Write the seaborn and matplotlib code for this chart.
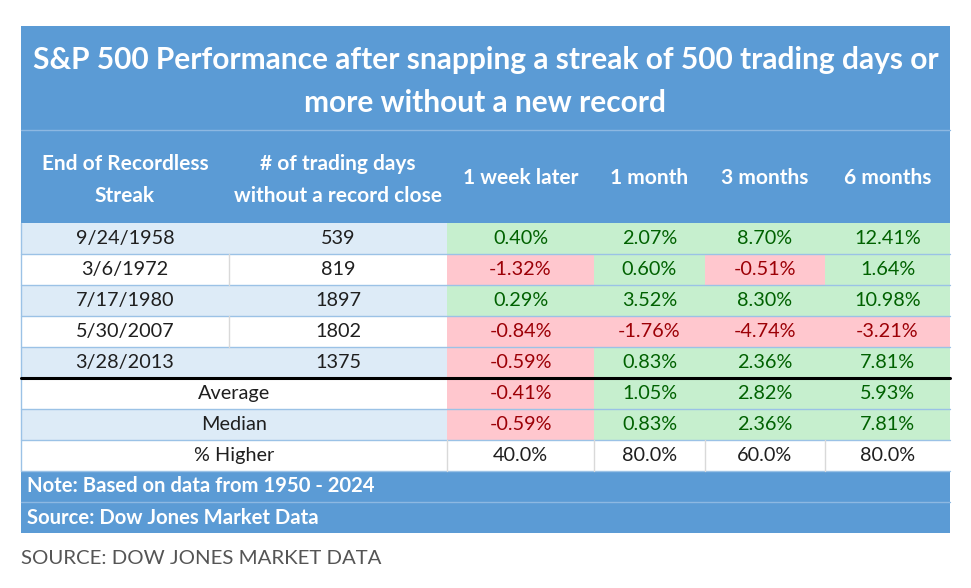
import numpy as np
import pandas as pd
import matplotlib
matplotlib.use("Agg")
import matplotlib.pyplot as plt
import seaborn as sns
from matplotlib.colors import ListedColormap
from matplotlib.patches import Rectangle

sns.set_theme(style="white")
plt.rcParams['font.family'] = ['Lato', 'DejaVu Sans']

# table values
dates = ['9/24/1958', '3/6/1972', '7/17/1980', '5/30/2007', '3/28/2013']
days = [539, 819, 1897, 1802, 1375]
periods = ['1 week later', '1 month', '3 months', '6 months']
week_later = [0.40, -1.32, 0.29, -0.84, -0.59]
one_month = [2.07, 0.60, 3.52, -1.76, 0.83]
three_months = [8.70, -0.51, 8.30, -4.74, 2.36]
six_months = [12.41, 1.64, 10.98, -3.21, 7.81]
average = [-0.41, 1.05, 2.82, 5.93]
median = [-0.59, 0.83, 2.36, 7.81]
pct_higher = [40.0, 80.0, 60.0, 80.0]

title = "S&P 500 Performance after snapping a streak of 500 trading days or\nmore without a new record"

# colours
BLUE = '#5B9BD5'
BAND = '#DDEBF7'
GREEN_BG, GREEN_TX = '#C6EFCE', '#006100'
RED_BG, RED_TX = '#FFC7CE', '#9C0006'
SEP = '#9BC2E6'
TXT = '#1F1F1F'
FS = 14.3

W, H = 971, 588
fig = plt.figure(figsize=(W / 100, H / 100), dpi=100)
fig.patch.set_facecolor('white')

ax = fig.add_axes([0, 0, 1, 1])
ax.set_xlim(0, W)
ax.set_ylim(H, 0)
ax.axis('off')

L, R = 21, 950
col_edges = [21, 229, 447, 594, 705, 825, 950]
row_top = 223
rh = 31
row_edges = [row_top + i * rh for i in range(11)]

# title band + header band
ax.add_patch(Rectangle((L, 26), R - L, row_top - 26, color=BLUE, lw=0))
ax.plot([L, R], [129.5, 129.5], color='#8DB8E2', lw=1)
ax.text((L + R) / 2, 81.5, title, ha='center', va='center', color='white',
        fontsize=21.5, fontweight='bold', linespacing=1.65)

hdr_y = 179.5
ax.text((col_edges[0] + col_edges[1]) / 2, hdr_y, 'End of Recordless\nStreak', ha='center',
        va='center', color='white', fontsize=15, fontweight='bold', linespacing=1.75)
ax.text((col_edges[1] + col_edges[2]) / 2, hdr_y, '# of trading days\nwithout a record close',
        ha='center', va='center', color='white', fontsize=15, fontweight='bold', linespacing=1.75)
for j, p in enumerate(periods):
    ax.text((col_edges[j + 2] + col_edges[j + 3]) / 2, 178, p, ha='center', va='center',
            color='white', fontsize=15, fontweight='bold')

# left columns: shaded bands
for i in range(8):
    y0 = row_edges[i]
    if i in (0, 2, 4, 6):
        ax.add_patch(Rectangle((L, y0), col_edges[2] - L, rh, color=BAND, lw=0))
for i, (d, n) in enumerate(zip(dates, days)):
    yc = row_edges[i] + rh / 2
    ax.text((col_edges[0] + col_edges[1]) / 2, yc, d, ha='center', va='center', color=TXT, fontsize=FS)
    ax.text((col_edges[1] + col_edges[2]) / 2, yc, str(n), ha='center', va='center', color=TXT, fontsize=FS)
for i, lab in zip([5, 6, 7], ['Average', 'Median', '% Higher']):
    ax.text((L + col_edges[2]) / 2, row_edges[i] + rh / 2, lab, ha='center', va='center',
            color=TXT, fontsize=FS)

# % Higher row
for j, v in enumerate(pct_higher):
    ax.text((col_edges[j + 2] + col_edges[j + 3]) / 2, row_edges[7] + rh / 2, f'{v:.1f}%',
            ha='center', va='center', color=TXT, fontsize=FS)

# note / source bands
ax.add_patch(Rectangle((L, row_edges[8]), R - L, row_edges[10] - row_edges[8], color=BLUE, lw=0))
ax.plot([L, R], [row_edges[9], row_edges[9]], color='#8DB8E2', lw=1)
ax.text(27, row_edges[8] + rh / 2, 'Note: Based on data from 1950 - 2024', ha='left', va='center',
        color='white', fontsize=14.6, fontweight='bold')
ax.text(27, row_edges[9] + rh / 2, 'Source: Dow Jones Market Data', ha='left', va='center',
        color='white', fontsize=14.6, fontweight='bold')

ax.text(L, 559, 'SOURCE: DOW JONES MARKET DATA', ha='left', va='center', color='#555555',
        fontsize=14.7)

# value cells, one heatmap per period column
cols = [week_later, one_month, three_months, six_months]
cmap = ListedColormap([RED_BG, GREEN_BG])
for j, vals in enumerate(cols):
    series = list(vals) + [average[j], median[j]]
    df = pd.DataFrame({periods[j]: series})
    labels = np.array([[f'{v:.2f}%'] for v in series])
    x0, x1 = col_edges[j + 2], col_edges[j + 3]
    y0, y1 = row_edges[0], row_edges[7]
    hax = fig.add_axes([x0 / W, 1 - y1 / H, (x1 - x0) / W, (y1 - y0) / H])
    sns.heatmap(np.sign(df), ax=hax, cmap=cmap, vmin=-1, vmax=1, cbar=False,
                annot=labels, fmt='', xticklabels=False, yticklabels=False,
                annot_kws={'fontsize': FS})
    for t, v in zip(hax.texts, series):
        t.set_color(GREEN_TX if v >= 0 else RED_TX)
    hax.axis('off')

# overlay for grid lines
ov = fig.add_axes([0, 0, 1, 1])
ov.set_xlim(0, W)
ov.set_ylim(H, 0)
ov.axis('off')
ov.patch.set_alpha(0)
for i in range(1, 9):
    if i == 5:
        continue
    ov.plot([L, R], [row_edges[i], row_edges[i]], color=SEP, lw=1)
# vertical separators in white rows
for i in (1, 3):
    ov.plot([col_edges[1], col_edges[1]], [row_edges[i], row_edges[i + 1]], color='#D9D9D9', lw=1)
for x in col_edges[2:6]:
    ov.plot([x, x], [row_edges[7], row_edges[8]], color='#D9D9D9', lw=1)
ov.plot([L, L], [row_edges[0], row_edges[8]], color=SEP, lw=1)
ov.plot([L, R], [row_edges[5], row_edges[5]], color='black', lw=2.2)

fig.savefig('out.png', dpi=100, facecolor='white')
